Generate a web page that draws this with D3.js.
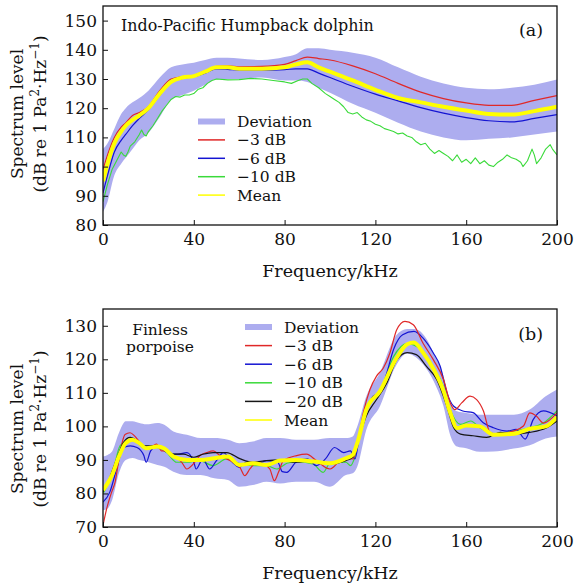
<!DOCTYPE html>
<html><head><meta charset="utf-8">
<script src="https://cdn.jsdelivr.net/npm/d3@7"></script>
<style>
body{margin:0;background:#fff}
text{font-family:"DejaVu Serif",serif;fill:#111}
</style>
</head><body>
<script>
// ---------------- Shared ----------------
const xTicks = [0, 40, 80, 120, 160, 200];

// ---------------- Panel (a): Indo-Pacific Humpback dolphin ----------------
const yTicksA = [80, 90, 100, 110, 120, 130, 140, 150];
const freqA = [0,2,5,8,10,13,16,20,25,30,35,40,45,50,55,60,70,80,85,90,95,100,110,120,130,140,150,160,170,180,190,200];
const meanA = [95,101,108,112,114,116,117.5,120,125,129,130.5,131,132.5,134,134,133.5,133.5,134,135,135.7,134,132.5,129.5,126.3,123.5,122,120.5,119.2,118,117.8,119,120.5];
const devHiA = [106,108,113,118,120,122,123.5,126,130.5,134,135,135.6,136.5,137.3,137.3,137,136.5,137.5,138.5,140.5,140.5,140,139,137.3,134,130.8,128.5,127,126.5,127,128,129.8];
const devLoA = [84.5,88,97,101,103,106,109,111.5,117,123,124.5,126,128,130,130,130,130.5,129.5,129.5,129,127,125.3,121.5,118.4,115,112,110,109,109.5,110,111,112];
const minus3A = [99,104,110,113.5,115,117.5,118.5,120.5,126,130,130.8,131.2,132.8,134.3,134.5,134.2,134.3,135,136.3,137.5,137,136.5,134.5,131.8,128.5,125.5,123.3,121.8,121,121,122.7,124.3];
const minus6A = [91,97,105,109,111,114,116.5,119.5,124.5,128.8,130.2,130.8,132,133.5,133.3,133,133,133.2,133.5,133.5,132,130.5,127.5,124.8,122.5,120.2,118.3,116.8,115.7,115.3,116.5,117.8];
const freq10A = [0,2,4,6,8,9,10,11,12,14,16,17,18,19,20,22,24,26,28,30,32,34,36,38,40,42,44,46,48,50,55,60,65,70,75,80,83,86,88,90,92,95,98,100,102,104,106,108,110,112,114,116,118,120,122,124,126,128,130,132,134,136,138,140,142,144,146,148,150,152,154,156,158,160,162,164,166,168,170,172,174,176,178,180,182,184,185,187,189,190,191,193,195,197,198,200];
const minus10A = [88,94,99,102,105,104,103.5,105,107,108.5,111,112.5,111,110.5,112,114,116.5,119,121,123,124,123.8,124.5,124.5,125,126.5,127,128.5,129.5,130,129.7,129.8,130.2,130,129.5,129,128.5,129.5,130,130,128.5,127,125,124,123,122,120.5,118.5,118,118.5,117,116,115.5,114.5,114,113,112.5,112,111.2,111.5,110.5,110,108.5,107.5,108,106,104.5,105.5,104.5,103.5,102,104,101.5,102.5,101,103,101,102,100.5,100,101.5,102.5,104,103,102.5,101.5,100,102,106,104,101,103,106,107.5,106,104];

// ---------------- Panel (b): Finless porpoise ----------------
const yTicksB = [70, 80, 90, 100, 110, 120, 130];
const freqB = [0,2,4,7,10,13,16,19,24,27,31,37,43,49,55,60,66,72,78,85,93,100,107,110,112,116,122,129,134,137,141,146,150,153,156,160,166,172,181,188,195,200];
const meanB = [81,83,85.5,91,95,96,95,93.5,94,93.4,91,90,90,90.5,91,88.5,89,88.5,89.8,90,89.5,89,90.5,91.5,95,105,110.5,120,124.5,125,122,116.6,110.6,104,99.5,100.3,100,97.5,97.8,99.3,100,102.8];
const devHiB = [91,91.5,92.5,98,101.5,101.5,101,100.6,101,100.5,98.5,97.5,96.5,96.5,96,95,95.5,96.5,96.5,96,96,96.5,96.5,97,100,109,116,127,129,129,127.5,121.5,115,107,104.5,104,103.5,103.5,103.5,105,109,111];
const devLoB = [75,75.5,78,86,90,90.6,90,89.5,88.5,88,86.5,85.5,85.5,84.5,84,82,82.5,83.5,83,83.5,83.5,82,85.5,86,88,99,106,118,121.7,121,118.5,113,106,97.3,94,93.5,92.4,92.5,93.4,94.4,96.4,97];
const freq3B = [0,1.6,3.8,5.3,7.5,9.7,11.9,14,16.3,19.2,22,23.6,25.8,28,31,34.7,36.9,39.8,42.7,45.7,48.6,51.5,54.5,57.4,60.3,62.5,64.7,67.7,70.6,73.5,75.5,77.3,79.5,85.3,89.7,94,100,105.8,110.2,112.5,114.7,117.6,120.5,123.5,126.4,129.4,133,136.7,141,145.5,150,153,155,158,161.7,164.6,167.6,170.5,173.5,180.7,185.2,188,191,194,200];
const minus3B = [70.5,75.4,80.4,83.3,92.2,97.6,98.1,97.1,95.2,93.7,94.2,94.7,92.7,92.7,91.3,89.3,87.3,88.8,91.3,92.2,92.7,91.3,90.3,89.3,87.8,85.3,87.3,89.3,88.8,87.3,83.8,86.3,89.8,91.3,91.7,89.8,87.3,90.3,90.3,96.2,104.1,111,115,117.4,121.9,128.8,131.3,130.3,124.8,119.9,114,107,105,107,109,108,104.6,98.2,97.7,98.6,100.1,104,103,101,104];
const freq6B = [0,3,6,9,12,15,18,19,21,24,27,30,33,37,40,41,44,47,50,53,57,60,63,68,72,77,79,81,85,90,94,98,102,106,109,111,113,116,119,122,125,128,132,137,141,145.5,148.5,151.5,154.5,158.5,163,167.5,172,178,182,186,189.5,194,200];
const minus6B = [77.4,80.4,87.3,93.7,94.2,93.7,91.3,89.3,92.7,94.2,92.7,91.7,91.7,92.2,89.3,87.3,90.3,87.3,89.8,92.2,89.3,87.8,89.3,88.8,89.8,89.3,86.5,86.3,89.3,90.3,88.3,90.3,93.7,92.2,92.7,90.3,97.2,104.1,109,110,115.9,122.9,127.3,128.3,126.3,121.9,118,110,106,104.6,104.1,101.1,99.6,98.6,99.1,96.2,102,104.6,103.1];
const freq10B = [0,4.5,7.5,10.5,13.5,16.5,19,23.5,28,32.5,37,42.5,48.5,54.5,60.5,66,72,76.5,81,85,92.5,97,100,107,109,111,113,116,122,128,134,140,145.5,150,153,157.5,162,166,173.5,180.5,188,194,200];
const minus10B = [79.9,87,94.2,95.7,96.2,94.2,93.2,93.7,92.2,89.3,89.3,89.8,88.3,90.3,88.8,88.3,88.3,87.3,89,89.5,88.8,86.3,89,89.3,88.3,91,97,106,110,120.8,124.7,122.9,117.4,111.9,105,100.6,101.6,99.6,97.7,98.6,99.6,101,104.6];
const freq20B = [0,3,6,9,12,15,18,22,26.5,31,35.5,40,44,48.5,54.5,60.5,66,72,78,85,92.5,100,107,110,113,116,120.5,125,129.5,134,138,142.5,147,151.5,154.5,157.5,163,169,175,180.5,188,195.5,200];
const minus20B = [80.4,84.8,90.3,95.2,96.7,95.7,94.2,94.2,93.7,91.7,91.7,90.8,91.7,92.2,92.2,90.3,89.3,89.8,90,89.3,89.8,88.8,89.8,90.8,97.2,103.1,108,112.9,119.9,122,121.4,117.9,114,106,99.6,97.7,97.2,96.7,98.2,97.7,98.2,99.6,101.6];

const legendA = ["Deviation", "\u22123 dB", "\u22126 dB", "\u221210 dB", "Mean"];
const legendB = ["Deviation", "\u22123 dB", "\u22126 dB", "\u221210 dB", "\u221220 dB", "Mean"];

// ---------------- Styles ----------------
const C = {band: "#adadef", red: "#e02828", blue: "#1414d2", green: "#3ada3a", black: "#161616", yellow: "#ffff00"};

const svg = d3.select("body").append("svg").attr("width", 574).attr("height", 587);

function drawPanel(o) {
  const g = svg.append("g");
  const x = d3.scaleLinear().domain([0, 200]).range([o.left, o.right]);
  const y = d3.scaleLinear().domain(o.yDomain).range([o.bottom, o.top]);
  const clipId = "clip" + o.id;
  svg.append("clipPath").attr("id", clipId).append("rect")
    .attr("x", o.left).attr("y", o.top).attr("width", o.right - o.left).attr("height", o.bottom - o.top);
  const plot = g.append("g").attr("clip-path", `url(#${clipId})`);

  const bandData = o.bandF.map((f, i) => ({f, lo: o.bandLo[i], hi: o.bandHi[i]}));
  plot.append("path").datum(bandData)
    .attr("d", d3.area().x(d => x(d.f)).y0(d => y(d.lo)).y1(d => y(d.hi)).curve(d3.curveMonotoneX))
    .attr("fill", C.band).attr("stroke", "none");

  o.series.forEach(s => {
    const data = s.f.map((f, i) => ({f, v: s.v[i]}));
    plot.append("path").datum(data)
      .attr("d", d3.line().x(d => x(d.f)).y(d => y(d.v)).curve(s.curve || d3.curveMonotoneX))
      .attr("fill", "none").attr("stroke", s.color).attr("stroke-width", s.width)
      .attr("stroke-linejoin", "round");
  });

  // axes
  const xa = g.append("g").attr("transform", `translate(0,${o.bottom})`)
    .call(d3.axisBottom(x).tickValues(xTicks).tickSizeInner(-5).tickSizeOuter(0).tickPadding(8));
  const ya = g.append("g").attr("transform", `translate(${o.left},0)`)
    .call(d3.axisLeft(y).tickValues(o.yTicks).tickSizeInner(-5).tickSizeOuter(0).tickPadding(6));
  [xa, ya].forEach(a => {
    a.select(".domain").remove();
    a.attr("font-family", "DejaVu Serif, serif").attr("font-size", 17);
    a.selectAll("line").attr("stroke", "#111").attr("stroke-width", 1);
    a.selectAll("text").attr("fill", "#111");
  });

  g.append("rect").attr("x", o.left).attr("y", o.top)
    .attr("width", o.right - o.left).attr("height", o.bottom - o.top)
    .attr("fill", "none").attr("stroke", "#111").attr("stroke-width", 1.3);

  // axis titles
  g.append("text").attr("x", (o.left + o.right) / 2).attr("y", o.bottom + 52)
    .attr("text-anchor", "middle").attr("font-size", 17.5).text("Frequency/kHz");
  g.append("text").attr("transform", `translate(23,${o.yTitleCy}) rotate(-90)`)
    .attr("text-anchor", "middle").attr("font-size", 17).text("Spectrum level");
  const t2 = g.append("text").attr("transform", `translate(46,${o.yTitleCy}) rotate(-90)`)
    .attr("text-anchor", "middle").attr("font-size", 17);
  t2.append("tspan").text("(dB re 1 Pa");
  t2.append("tspan").attr("dy", -7).attr("font-size", 12).text("2");
  t2.append("tspan").attr("dy", 7).text("\u00b7Hz");
  t2.append("tspan").attr("dy", -7).attr("font-size", 12).text("\u22121");
  t2.append("tspan").attr("dy", 7).text(")");

  // annotations
  o.notes.forEach(n => {
    g.append("text").attr("x", n.x).attr("y", n.y).attr("text-anchor", n.anchor || "start")
      .attr("font-size", n.size).text(n.text);
  });

  // legend
  const lg = g.append("g");
  o.legend.forEach((label, i) => {
    const cy = o.legY + i * o.legStep;
    const s = o.legStyles[i];
    lg.append("line").attr("x1", o.legX).attr("x2", o.legX + 27).attr("y1", cy).attr("y2", cy)
      .attr("stroke", s.color).attr("stroke-width", s.width);
    lg.append("text").attr("x", o.legX + 39).attr("y", cy + 5.5).attr("font-size", 15.5).text(label);
  });
}

drawPanel({
  id: "a", left: 103, right: 557, top: 6, bottom: 225, yDomain: [80, 155], yTicks: yTicksA,
  yTitleCy: 114,
  bandF: freqA, bandLo: devLoA, bandHi: devHiA,
  series: [
    {f: freq10A, v: minus10A, color: C.green, width: 1.1, curve: d3.curveLinear},
    {f: freqA, v: minus6A, color: C.blue, width: 1.2},
    {f: freqA, v: minus3A, color: C.red, width: 1.2},
    {f: freqA, v: meanA, color: C.yellow, width: 4}
  ],
  notes: [
    {x: 121, y: 31, size: 15.9, text: "Indo-Pacific Humpback dolphin"},
    {x: 543, y: 36, size: 17.5, anchor: "end", text: "(a)"}
  ],
  legend: legendA, legX: 198, legY: 121.5, legStep: 18.4,
  legStyles: [
    {color: C.band, width: 6}, {color: C.red, width: 1.5}, {color: C.blue, width: 1.5},
    {color: C.green, width: 1.5}, {color: C.yellow, width: 1.5}
  ]
});

drawPanel({
  id: "b", left: 103, right: 557, top: 309, bottom: 527, yDomain: [70, 135], yTicks: yTicksB,
  yTitleCy: 429,
  bandF: freqB, bandLo: devLoB, bandHi: devHiB,
  series: [
    {f: freq10B, v: minus10B, color: C.green, width: 1.2},
    {f: freq6B, v: minus6B, color: C.blue, width: 1.2},
    {f: freq3B, v: minus3B, color: C.red, width: 1.2},
    {f: freq20B, v: minus20B, color: C.black, width: 1.2},
    {f: freqB, v: meanB, color: C.yellow, width: 4}
  ],
  notes: [
    {x: 160, y: 335, size: 15.5, anchor: "middle", text: "Finless"},
    {x: 160, y: 352, size: 15.5, anchor: "middle", text: "porpoise"},
    {x: 543, y: 340, size: 17.5, anchor: "end", text: "(b)"}
  ],
  legend: legendB, legX: 245, legY: 327, legStep: 18.6,
  legStyles: [
    {color: C.band, width: 6}, {color: C.red, width: 1.5}, {color: C.blue, width: 1.5},
    {color: C.green, width: 1.5}, {color: C.black, width: 1.5}, {color: C.yellow, width: 1.5}
  ]
});
</script>
</body></html>
